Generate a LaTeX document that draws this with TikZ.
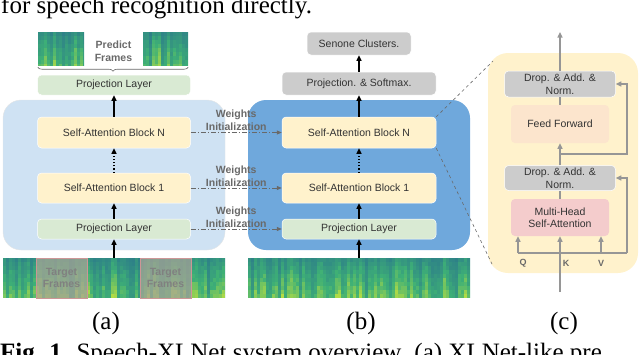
\documentclass[tikz,border=0pt]{standalone}
\usepackage{fontspec}
\setmainfont{Liberation Serif}
\setsansfont{Liberation Sans}
\usetikzlibrary{arrows.meta,decorations.pathreplacing}
\definecolor{paleB}{RGB}{207,226,243}
\definecolor{deepB}{RGB}{111,168,220}
\definecolor{creamY}{RGB}{255,242,204}
\definecolor{paleG}{RGB}{217,234,211}
\definecolor{paleK}{RGB}{204,204,204}
\definecolor{peachO}{RGB}{252,229,205}
\definecolor{pinkR}{RGB}{244,204,204}
\definecolor{lineK}{RGB}{150,150,150}
\definecolor{txtK}{RGB}{105,105,105}
\definecolor{specT}{RGB}{40,112,142}
\definecolor{specG}{RGB}{62,176,118}
\definecolor{specY}{RGB}{200,228,60}
\definecolor{tgtE}{RGB}{205,150,150}
\definecolor{tgtF}{RGB}{170,165,150}

\newcommand{\specfill}[4]{% top-left x, top-left y, columns, rows
  \foreach \ci in {1,...,#3}{
    \pgfmathsetmacro\colv{0.4+0.6*rnd}
    \foreach \rj in {1,...,#4}{
      \pgfmathsetmacro\lev{100*\colv*(0.35+0.65*\rj/#4)*(0.75+0.25*rnd)}
      \pgfmathtruncatemacro\mixA{min(100,2*\lev)}
      \pgfmathtruncatemacro\mixB{max(0,2*\lev-100)}
      \fill[specY!\mixB!specG!\mixA!specT] ({#1+3*(\ci-1)},{#2+4*(\rj-1)}) rectangle +(3.1,4.1);
    }
  }
}

\tikzset{
  blk/.style={rounded corners=4pt,draw=white,line width=0.5pt,inner sep=0pt,align=center,
    font=\sffamily\fontsize{10.5}{12.5}\selectfont,text=black!80},
  panel/.style={rounded corners=18pt,inner sep=0pt},
  spec/.style={inner sep=0pt},
  lbl/.style={font=\sffamily\bfseries\fontsize{10.5}{13}\selectfont,text=txtK,align=center,inner sep=0pt},
  tgt/.style={fill=tgtF,fill opacity=0.72,text opacity=1,draw=tgtE,line width=0.6pt,
    minimum width=51,minimum height=40,inner sep=0pt,align=center,
    font=\sffamily\bfseries\fontsize{10.5}{12}\selectfont,text=black!50},
  barr/.style={->,line width=1.2pt,black},
  darr/.style={->,line width=1.2pt,black,dotted},
  winit/.style={-{Triangle[length=5pt,width=4pt]},line width=0.8pt,txtK,dash pattern=on 5pt off 2pt on 1.2pt off 2pt},
  garr/.style={->,line width=1.3pt,lineK},
  gline/.style={line width=1.3pt,lineK},
  zoomln/.style={dashed,txtK,line width=0.6pt},
  caption/.style={font=\fontsize{25}{30}\selectfont,inner sep=0pt}
}

\begin{document}
\begin{tikzpicture}[x=1pt,y=-1pt,>={Triangle[length=5.5pt,width=5pt]}]
\useasboundingbox (0,0) rectangle (640,354);
\clip (0,0) rectangle (640,354);
\pgfmathsetseed{11}

% cut caption lines
\node[caption,anchor=base west] (txtTop) at (1,13) {for speech recognition directly.};
\node[caption,anchor=base west] (txtBot) at (0,360) {\textbf{Fig. 1.} Speech-XLNet system overview. (a) XLNet-like pre};

% (a) pre-training
\node[panel,fill=paleB,draw=black!10,minimum width=222,minimum height=150] (encA) at (114,175) {};
\node[blk,fill=paleG,minimum width=153,minimum height=20] (projA) at (114,85) {Projection Layer};
\node[blk,fill=creamY,minimum width=153,minimum height=31] (blkNA) at (114,132.5) {Self-Attention Block N};
\node[blk,fill=creamY,minimum width=153,minimum height=30] (blk1A) at (114,188) {Self-Attention Block 1};
\node[blk,fill=paleG,minimum width=153,minimum height=20] (projInA) at (114,229) {Projection Layer};

\node[spec,minimum width=222,minimum height=40] (specA) at (114,278) {};
\begin{scope}
\clip (specA.north west) rectangle (specA.south east);
\specfill{3}{258}{75}{10}
\end{scope}
\node[tgt] (tgtL) at (61.5,278) {Target\\Frames};
\node[tgt] (tgtR) at (165.5,278) {Target\\Frames};

\node[spec,minimum width=46,minimum height=33] (specPL) at (61,48.5) {};
\node[spec,minimum width=45,minimum height=33] (specPR) at (165.5,48.5) {};
\begin{scope}
\clip (specPL.north west) rectangle (specPL.south east);
\specfill{38}{32}{16}{9}
\end{scope}
\begin{scope}
\clip (specPR.north west) rectangle (specPR.south east);
\specfill{143}{32}{16}{9}
\end{scope}
\node[lbl] (predT) at (113.5,51.5) {Predict\\Frames};
\draw[decorate,decoration={brace,mirror,amplitude=4pt},txtK,line width=0.6pt]
  ([yshift=-2pt]specPL.south west) -- ([yshift=-2pt]specPR.south east);

\draw[barr] (specA) -- (projInA);
\draw[barr] (projInA) -- (blk1A);
\draw[darr] (blk1A) -- (blkNA);
\draw[barr] (blkNA) -- (projA);

% (b) fine-tuning
\node[panel,fill=deepB,minimum width=222,minimum height=150] (encB) at (359,175) {};
\node[blk,fill=paleK,minimum width=104,minimum height=23] (senB) at (359,43.5) {Senone Clusters.};
\node[blk,fill=paleK,minimum width=154,minimum height=23] (softB) at (359,83.5) {Projection. \& Softmax.};
\node[blk,fill=creamY,minimum width=154,minimum height=31] (blkNB) at (359,132.5) {Self-Attention Block N};
\node[blk,fill=creamY,minimum width=154,minimum height=30] (blk1B) at (359,188) {Self-Attention Block 1};
\node[blk,fill=paleG,minimum width=154,minimum height=20] (projInB) at (359,229) {Projection Layer};

\node[spec,minimum width=222,minimum height=40] (specB) at (359,278) {};
\begin{scope}
\clip (specB.north west) rectangle (specB.south east);
\specfill{248}{258}{75}{10}
\end{scope}

\draw[barr] (specB) -- (projInB);
\draw[barr] (projInB) -- (blk1B);
\draw[darr] (blk1B) -- (blkNB);
\draw[barr] (blkNB) -- (softB);
\draw[barr] (softB) -- (senB);

% weights transfer
\draw[winit] (blkNA.east) -- (blkNB.west) node[lbl,midway,above=1.5pt] {Weights\\Initialization};
\draw[winit] (blk1A.east) -- (blk1B.west) node[lbl,midway,above=1.5pt] {Weights\\Initialization};
\draw[winit] (projInA.east) -- (projInB.west) node[lbl,midway,above=1.5pt] {Weights\\Initialization};

% (c) block detail
\node[panel,rounded corners=20pt,fill=creamY,minimum width=150,minimum height=220] (encC) at (563,163) {};
\node[blk,fill=paleK,minimum width=111,minimum height=26] (danTop) at (560,84) {Drop. \& Add. \&\\Norm.};
\node[blk,fill=peachO,draw=none,minimum width=98,minimum height=38] (ffC) at (560,124) {Feed Forward};
\node[blk,fill=paleK,minimum width=111,minimum height=25] (danBot) at (560,178) {Drop. \& Add. \&\\Norm.};
\node[blk,fill=pinkR,draw=none,minimum width=98,minimum height=37] (mhsaC) at (560,217.5) {Multi-Head\\Self-Attention};
\node[lbl,font=\sffamily\bfseries\fontsize{9}{10}\selectfont] (qL) at (523,263) {Q};
\node[lbl,font=\sffamily\bfseries\fontsize{9}{10}\selectfont] (kL) at (566,263) {K};
\node[lbl,font=\sffamily\bfseries\fontsize{9}{10}\selectfont] (vL) at (601,263) {V};

\coordinate (inC) at (560,292);
\coordinate (outC) at (560,32);
\coordinate (qC) at (518,253);
\coordinate (vC) at (601,253);
\coordinate (rC) at (627,253);
\coordinate (resC) at (560,154);

\draw[garr] (inC) -- (mhsaC.south);
\draw[gline] (qC) -- (rC);
\draw[garr] (qC) -- (qC |- mhsaC.south);
\draw[garr] (vC) -- (vC |- mhsaC.south);
\draw[garr] (rC) |- (danBot.east);
\draw[gline] (mhsaC) -- (danBot);
\draw[garr] (danBot) -- (ffC);
\draw[garr] (resC) -- (627,154) |- (danTop.east);
\draw[gline] (ffC) -- (danTop);
\draw[garr] (danTop) -- (outC);

% zoom lines
\coordinate (zoomT) at (493,61);
\coordinate (zoomB) at (492,264);
\draw[zoomln] (blkNB.north east) -- (zoomT);
\draw[zoomln] (blkNB.south east) -- (zoomB);

\node[caption] (labA) at (106,323) {(a)};
\node[caption] (labB) at (361,323) {(b)};
\node[caption] (labC) at (564,323) {(c)};
\end{tikzpicture}
\end{document}
